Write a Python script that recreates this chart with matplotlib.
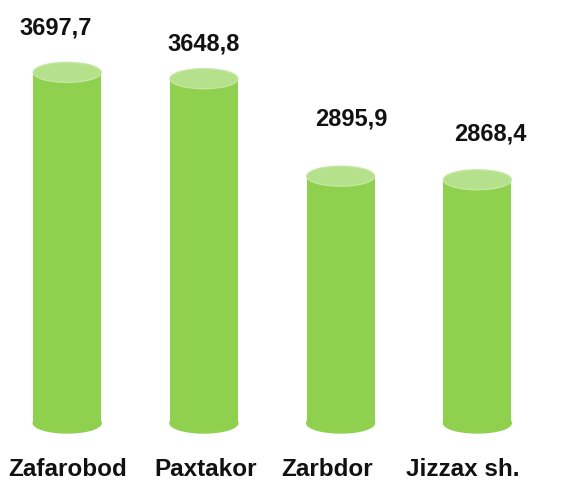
import matplotlib
matplotlib.use("Agg")
import matplotlib.pyplot as plt
from matplotlib.patches import Ellipse

categories = ["Zafarobod", "Paxtakor", "Zarbdor", "Jizzax sh."]
values = [3697.7, 3648.8, 2895.9, 2868.4]
value_labels = ["3697,7", "3648,8", "2895,9", "2868,4"]

base = 990.0
body_color = "#8fd14f"
top_color = "#b5e08c"
bar_w = 0.497
ell_h = 154.0

fig = plt.figure(figsize=(5.61, 4.87), dpi=100)
ax = fig.add_axes([0, 0, 1, 1])
ax.set_xlim(-0.4916, 3.612)
ax.set_ylim(495.8, 4256.5)
ax.axis("off")

xs = list(range(len(categories)))
ax.bar(xs, [v - base for v in values], bottom=base, width=bar_w,
       color=body_color, edgecolor="none", zorder=2)

# label offsets (points) relative to bar tops
lab_off = [(-8, 32), (0, 25), (8, 41), (9, 33)]
for x, v, lab, off in zip(xs, values, value_labels, lab_off):
    ax.add_patch(Ellipse((x, base), bar_w, ell_h, color=body_color, zorder=1))
    ax.add_patch(Ellipse((x, v), bar_w, ell_h, facecolor=top_color,
                         edgecolor="#c4e7a2", lw=1.0, zorder=3))
    ax.annotate(lab, (x, v), xytext=off, textcoords="offset points",
                ha="center", va="center", fontsize=17, fontweight="bold",
                family="Liberation Sans", color="#111111")

label_x_off = [0.006, 0.015, -0.10, -0.105]
cat_y = 3277.7 - (470 - 126.75) / 0.1295
for x, c, off in zip(xs, categories, label_x_off):
    ax.text(x + off, cat_y, c, ha="center", va="center", fontsize=17.5,
            fontweight="bold", family="Liberation Sans", color="#111111")

fig.savefig("out.png", dpi=100, facecolor="white")
